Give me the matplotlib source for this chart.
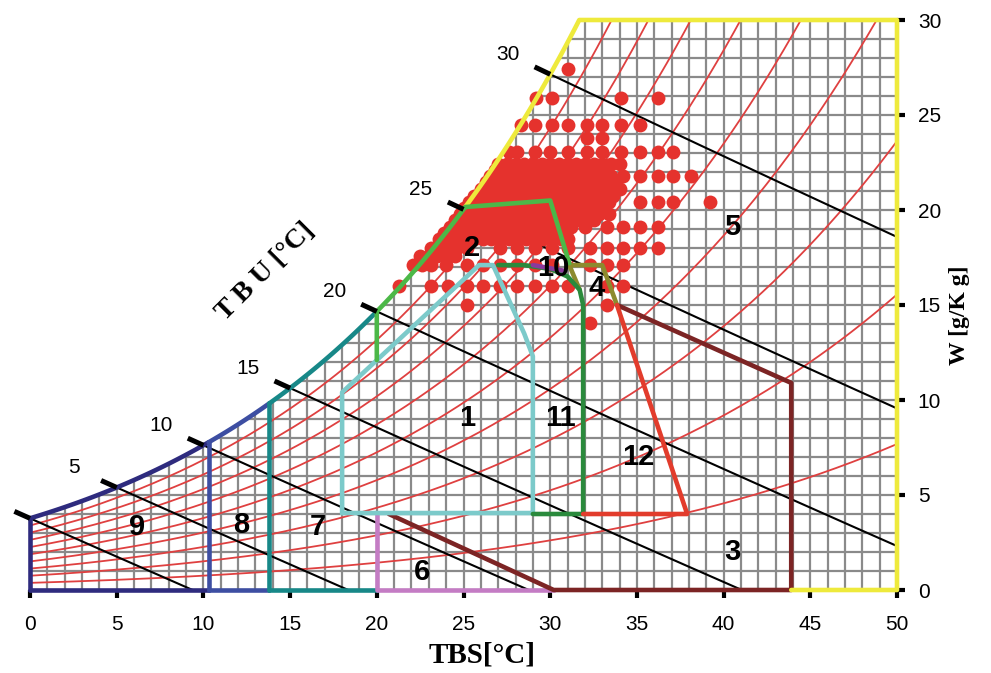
import numpy as np
import matplotlib
matplotlib.use('Agg')
import matplotlib.pyplot as plt
from matplotlib.patches import Polygon

# ---------------- data ----------------
rh_levels = [10, 20, 30, 40, 50, 60, 70, 80, 90]          # % relative humidity curves
tbu_levels = [0, 5, 10, 15, 20, 25, 30]                   # wet-bulb lines (degC)
tbu_labels = [5, 10, 15, 20, 25, 30]

x_ticks = [0, 5, 10, 15, 20, 25, 30, 35, 40, 45, 50]
y_ticks = [0, 5, 10, 15, 20, 25, 30]

# zone boundary limits (TBS degC, W g/kg)
z9_T = [0.0, 10.3]
z8_T = [10.3, 13.8]
z7_T = [13.8, 20.0]
z6_T = [20.0, 20.0, 30.2]
z6_W = [4.0, 0.0, 0.0]
z2_T = [20.0, 25.1, 30.0, 31.1]       # after saturation part
z2_W = [12.1, 20.5, 20.5, 17.2]
z1_T = [18.0, 29.0, 29.0, 28.5, 26.7, 25.9, 18.0, 18.0]
z1_W = [4.05, 4.05, 12.3, 13.5, 17.1, 17.1, 10.4, 4.05]
z11_T = [27.0, 28.5, 30.0, 31.0, 31.7, 31.9, 31.9, 29.0]
z11_W = [17.1, 17.1, 16.9, 16.5, 15.8, 15.0, 4.0, 4.0]
z10_T = [29.0, 30.8]
z10_W = [17.1, 16.8]
z4_T = [31.7, 31.1, 33.0, 33.85]
z4_W = [15.8, 17.1, 17.1, 15.0]
z12_T = [31.9, 37.9, 33.85]
z12_W = [4.0, 4.0, 15.0]
z3_T = [33.85, 43.9, 43.9, 30.2, 20.7]
z3_W = [15.0, 10.9, 0.0, 0.0, 4.0]
z5_T = [50.0, 50.0, 43.9]
z5_W = [30.0, 0.0, 0.0]

zone_names = ['1', '2', '3', '4', '5', '6', '7', '8', '9', '10', '11', '12']
zone_lab_T = [25.2, 25.5, 40.5, 32.7, 40.5, 22.6, 16.6, 12.2, 6.2, 30.2, 30.6, 35.1]
zone_lab_W = [9.05, 18.0, 2.0, 15.9, 19.1, 0.95, 3.3, 3.4, 3.3, 16.95, 9.05, 7.0]

# measured points (TBS, W) by rows
dot_rows_W = [27.4, 25.9, 24.5, 23.8, 23.05, 22.4, 22.1, 21.8, 21.45, 21.1, 20.75, 20.4,
              20.1, 19.8, 19.45, 19.1, 18.8, 18.5, 18.0, 17.6, 17.1, 16.0, 15.0, 14.05]
dot_rows_T = [
    [31.0],
    [29.2, 30.1, 34.1, 36.2],
    [28.3, 29.1, 30.1, 31.0, 32.1, 33.0, 34.1, 35.2],
    [32.1, 33.0],
    [27.6, 28.1, 29.1, 30.0, 31.0, 32.1, 33.0, 34.1, 35.2, 36.2, 37.1],
    [27.0, 27.5, 28.0, 28.5, 29.0, 29.5, 30.0, 30.5, 31.0, 31.5, 32.0, 32.5, 33.0, 33.5, 34.0],
    [26.8, 27.3, 27.8, 28.3, 28.8, 29.3, 29.8, 30.3, 30.8, 31.3, 31.8, 32.3, 32.8, 33.3],
    [26.5, 27.0, 27.5, 28.0, 28.5, 29.0, 29.5, 30.0, 30.5, 31.0, 31.5, 32.0, 32.5, 33.0,
     33.5, 34.2, 35.2, 36.2, 37.1, 38.1],
    [26.3, 26.8, 27.3, 27.8, 28.3, 28.8, 29.3, 29.8, 30.3, 30.8, 31.3, 31.8, 32.3, 32.8,
     33.3, 33.8],
    [26.0, 26.5, 27.0, 27.5, 28.0, 28.5, 29.0, 29.5, 30.0, 30.5, 31.0, 31.5, 32.0, 32.5,
     33.0, 33.5, 34.0],
    [25.6, 26.1, 26.6, 27.1, 27.6, 28.1, 28.6, 29.1, 29.6, 30.1, 30.6, 31.1, 31.6, 32.1,
     32.6, 33.1, 33.6],
    [25.3, 25.8, 26.3, 26.8, 27.3, 27.8, 28.3, 28.8, 29.3, 29.8, 30.3, 30.8, 31.3, 31.8,
     32.3, 32.8, 33.4, 35.2, 36.2, 37.1, 39.2],
    [25.0, 25.5, 26.0, 26.5, 27.0, 27.5, 28.0, 28.5, 29.0, 29.5, 30.0, 30.5, 31.0, 31.5,
     32.0, 32.5, 33.0],
    [24.8, 25.3, 25.8, 26.3, 26.8, 27.3, 27.8, 28.3, 28.8, 29.3, 29.8, 30.3, 30.8, 31.3,
     31.8, 32.3, 32.8, 33.4],
    [24.5, 25.0, 25.5, 26.0, 26.5, 27.0, 27.5, 28.0, 28.5, 29.0, 29.5, 30.0, 30.5, 31.0,
     31.5, 32.0, 32.5],
    [24.2, 24.7, 25.2, 25.7, 26.2, 26.7, 27.2, 27.7, 28.2, 28.7, 29.2, 29.7, 30.2, 30.7,
     31.2, 32.0, 33.3, 34.2, 35.2, 36.2],
    [23.9, 24.4, 24.9, 25.4, 25.9, 26.4, 26.9, 27.4, 27.9, 28.4, 28.9, 29.4, 29.9, 30.4,
     30.9],
    [23.6, 24.1, 24.6, 25.1, 25.6, 26.1, 26.6, 27.1, 27.6, 28.1, 28.6, 29.1, 29.6, 30.1,
     30.6, 31.0],
    [23.1, 23.6, 24.1, 24.6, 25.2, 27.1, 28.1, 29.1, 30.1, 31.0, 32.3, 33.3, 34.2, 35.2, 36.2],
    [22.5, 23.0, 23.5, 24.0, 24.5],
    [22.1, 22.6, 23.1, 24.0, 25.2, 26.1, 27.1, 28.1, 29.1, 30.1, 32.3, 33.3, 34.2],
    [21.3, 23.1, 24.1, 25.2, 26.1, 27.1, 28.1, 29.1, 30.1, 31.0, 33.3, 34.2],
    [25.2, 33.3],
    [32.3],
]

# ---------------- psychrometrics ----------------
P_ATM = 101.325


def p_sat(t):
    t = np.asarray(t, dtype=float)
    return 0.61094 * np.exp(17.625 * t / (t + 243.04))


def w_from_pv(pv):
    return 622.0 * pv / (P_ATM - pv)


def w_sat(t):
    return w_from_pv(p_sat(t))


def w_rh(t, rh):
    return w_from_pv(rh / 100.0 * p_sat(t))


def w_wetbulb(t, twb):
    ws = w_sat(twb) / 1000.0
    t = np.asarray(t, dtype=float)
    return 1000.0 * ((2501 - 2.326 * twb) * ws - 1.006 * (t - twb)) / (2501 + 1.86 * t - 4.186 * twb)


_ts = np.linspace(0, 50, 5001)
T_TOP = float(np.interp(30.0, w_sat(_ts), _ts))


def sat_seg(t0, t1, n=80):
    t = np.linspace(t0, t1, n)
    return t, w_sat(t)


# ---------------- figure ----------------
fig = plt.figure(figsize=(9.91, 6.73), dpi=100)
ax = fig.add_axes([30 / 991, 83 / 673, 867 / 991, 570 / 673])
ax.set_xlim(0, 50)
ax.set_ylim(0, 30)
for s in ax.spines.values():
    s.set_visible(False)

# clip region under saturation curve
tc, wc = sat_seg(0, T_TOP, 300)
verts = [(0, 0)] + list(zip(tc, wc)) + [(50, 30), (50, 0)]
clip = Polygon(verts, closed=True, transform=ax.transData, fc='none', ec='none')
ax.add_patch(clip)

grid_col = '#8a8a8a'
vl = ax.vlines(np.arange(0, 51, 1), 0, 30, colors=grid_col, lw=1.6, zorder=1)
vl.set_clip_path(clip)
hl = ax.hlines(np.arange(0, 31, 1), 0, 50, colors=grid_col, lw=1.6, zorder=1)
hl.set_clip_path(clip)

# relative humidity curves
T = np.linspace(0, 50, 400)
for rh in rh_levels:
    ln, = ax.plot(T, w_rh(T, rh), color='#df4040', lw=1.3, zorder=2)
    ln.set_clip_path(clip)

# wet-bulb lines
for twb in tbu_levels:
    Tl = np.linspace(twb, 50, 600)
    ax.plot(Tl, w_wetbulb(Tl, twb), color='black', lw=1.5, zorder=2)
    Tt = np.array([twb - 0.9, twb])
    ax.plot(Tt, w_wetbulb(Tt, twb), color='black', lw=3.6, zorder=5,
            clip_on=False, solid_capstyle='butt')
for twb in tbu_labels:
    ax.text(twb - 2.45, float(w_sat(twb)) + 1.05, str(twb), ha='center', va='center',
            fontsize=15, family='Liberation Sans')

# measured points
dot_T = []
dot_W = []
for w, row in zip(dot_rows_W, dot_rows_T):
    dot_T += row
    dot_W += [w] * len(row)
ax.scatter(dot_T, dot_W, s=100, color='#e5322d', linewidths=0, zorder=3)

LW = 3.3
kw = dict(lw=LW, zorder=4, clip_on=False, solid_joinstyle='round', solid_capstyle='round')

# zone 9
c9 = '#2e2b7e'
t, w = sat_seg(*z9_T)
ax.plot([z9_T[0], z9_T[0]], [0, w[0]], color=c9, **kw)
ax.plot(t, w, color=c9, **kw)
ax.plot(z9_T, [0, 0], color=c9, **kw)
# zone 8
c8 = '#3d4ea2'
t, w = sat_seg(*z8_T)
ax.plot([z8_T[0], z8_T[0]], [0, w[0]], color=c8, **kw)
ax.plot(t, w, color=c8, **kw)
ax.plot(z8_T, [0, 0], color=c8, **kw)
# zone 7
c7 = '#178888'
t, w = sat_seg(*z7_T)
ax.plot([z7_T[0], z7_T[0]], [0, w[0]], color=c7, **kw)
ax.plot(t, w, color=c7, **kw)
ax.plot(z7_T, [0, 0], color=c7, **kw)
# zone 6
ax.plot(z6_T, z6_W, color='#c47cc4', **kw)
# zone 3
ax.plot(z3_T, z3_W, color='#7c2424', **kw)
# zone 5
c5 = '#eeea3c'
t, w = sat_seg(z2_T[1], T_TOP)
ax.plot(list(t) + z5_T, list(w) + z5_W, color=c5, **kw)
# zone 1
ax.plot(z1_T, z1_W, color='#7ccaca', **kw)
# zone 4
ax.plot(z4_T, z4_W, color='#8c8a2e', **kw)
# zone 11
ax.plot(z11_T, z11_W, color='#2a8a3c', **kw)
# zone 10
ax.plot(z10_T, z10_W, color='#8a3a9c', **kw)
# zone 12
ax.plot(z12_T, z12_W, color='#e23c2c', **kw)
# zone 2
c2 = '#4cb848'
t, w = sat_seg(z2_T[0], z2_T[1])
ax.plot([z2_T[0]] + list(t) + z2_T[2:], [z2_W[0]] + list(w) + z2_W[2:], color=c2, **kw)

for name, tx, wy in zip(zone_names, zone_lab_T, zone_lab_W):
    ax.text(tx, wy, name, ha='center', va='center', fontsize=21, fontweight='bold',
            family='Liberation Sans', zorder=6)

# axes ticks
ax.set_xticks(x_ticks)
ax.set_xticklabels([str(v) for v in x_ticks], family='Liberation Sans')
ax.tick_params(axis='x', direction='out', length=6, width=3, pad=12, labelsize=15)
ax.yaxis.tick_right()
ax.set_yticks(y_ticks)
ax.set_yticklabels([str(v) for v in y_ticks], family='Liberation Sans')
ax.tick_params(axis='y', direction='out', length=6, width=3, pad=9, labelsize=15)

fig.text(482 / 991, 1 - 655 / 673, 'TBS[°C]', ha='center', va='center', fontsize=21,
         fontweight='bold', family='Liberation Serif')
fig.text(960 / 991, 1 - 315 / 673, 'W [g/K g]', ha='center', va='center', fontsize=17,
         fontweight='bold', family='Liberation Serif', rotation=90)
fig.text(265 / 991, 1 - 272 / 673, 'T B U [°C]', ha='center', va='center', fontsize=20,
         fontweight='bold', family='Liberation Serif', rotation=45)

fig.savefig('out.png', dpi=100)
